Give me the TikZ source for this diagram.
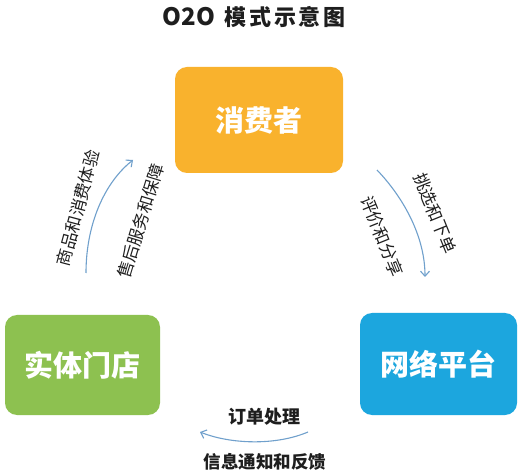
\documentclass[tikz,border=0pt]{standalone}
\usepackage{fontspec}
\setmainfont{Noto Sans CJK SC}
\usetikzlibrary{arrows.meta}
\definecolor{boxorange}{RGB}{249,178,45}
\definecolor{boxgreen}{RGB}{141,193,80}
\definecolor{boxblue}{RGB}{28,166,222}
\definecolor{arrowblue}{RGB}{112,160,204}
\definecolor{textdark}{RGB}{30,30,30}
\begin{document}
\begin{tikzpicture}[x=1pt,y=-1pt,
  box/.style={rounded corners=12pt, inner sep=0pt, text=white,
    font=\fontsize{29}{29}\selectfont\bfseries},
  flowlabel/.style={inner sep=0pt, text=textdark, font=\fontsize{17}{17}\selectfont},
  boldlabel/.style={inner sep=0pt, text=textdark, font=\fontsize{18}{18}\selectfont\bfseries},
  flowarrow/.style={draw=arrowblue, line width=1.1pt, -{Straight Barb[length=5pt,width=9pt]}}]
\useasboundingbox (0,0) rectangle (522,470);
\fill[white] (0,0) rectangle (522,470);
% title
\node[inner sep=0pt, text=textdark, font=\fontsize{22}{22}\selectfont\bfseries] (title) at (254,17) {{\fontsize{24}{24}\selectfont O2O}\hspace{10pt}{\addfontfeature{LetterSpace=12}模式示意图}};
% boxes
\node[box, fill=boxorange, minimum width=168pt, minimum height=106pt] (consumer) at (259,120) {消费者};
\node[box, fill=boxgreen, minimum width=155pt, minimum height=100pt] (store) at (82.5,365) {实体门店};
\node[box, fill=boxblue, minimum width=157pt, minimum height=102pt] (platform) at (438.5,364) {网络平台};
% arrow coordinates
\coordinate (l1) at (86,273);
\coordinate (l2) at (133,160);
\coordinate (r1) at (377,170);
\coordinate (r2) at (425,277);
\coordinate (b1) at (308,432);
\coordinate (b2) at (200,432);
% arrows
\draw[flowarrow] (l1) .. controls (86,225) and (104,183) .. (l2);
\draw[flowarrow] (r1) .. controls (402,196) and (425,235) .. (r2);
\draw[flowarrow] (b1) .. controls (275,446) and (230,444) .. (b2);
% labels
\node[flowlabel, rotate=75] (lab1) at (78,208) {商品和消费体验};
\node[flowlabel, rotate=73] (lab2) at (141,221) {售后服务和保障};
\node[flowlabel, rotate=-68] (lab3) at (435,213) {挑选和下单};
\node[flowlabel, rotate=-68] (lab4) at (382,236) {评价和分享};
\node[boldlabel] (lab5) at (264,417) {订单处理};
\node[boldlabel, font=\fontsize{17.5}{17.5}\selectfont\bfseries] (lab6) at (265,462) {信息通知和反馈};
\end{tikzpicture}
\end{document}
